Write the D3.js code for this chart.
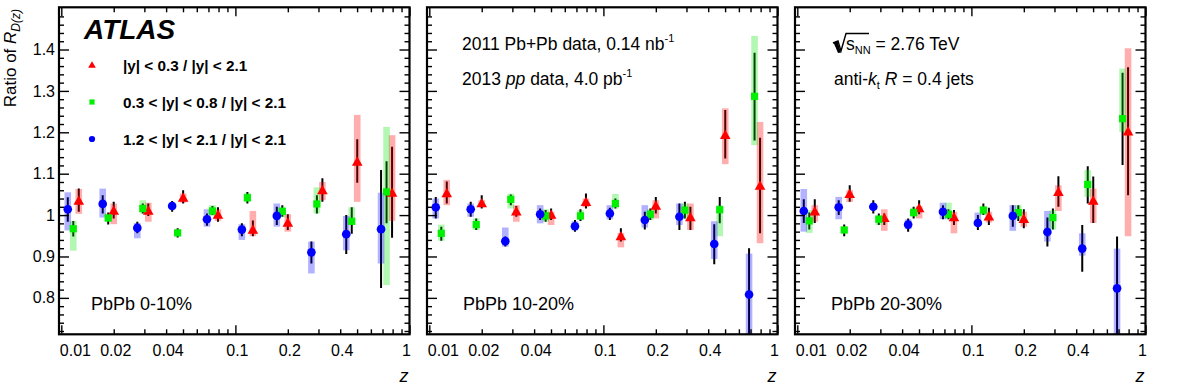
<!DOCTYPE html>
<html>
<head>
<meta charset="utf-8">
<script src="https://d3js.org/d3.v7.min.js"></script>
<style>
  body { margin: 0; background: #fff; }
  svg { display: block; font-family: "Liberation Sans", Arial, Helvetica, sans-serif; }
</style>
</head>
<body>
<div id="chart"></div>
<script>
// z bin centres (log bins, 5 per decade)
var zBins = [0.0126, 0.02, 0.0316, 0.0501, 0.0794, 0.126, 0.2, 0.316, 0.501, 0.794];

var seriesLabels = ["|y| < 0.3 / |y| < 2.1", "0.3 < |y| < 0.8 / |y| < 2.1", "1.2 < |y| < 2.1 / |y| < 2.1"];
var panelLabels = ["PbPb 0-10%", "PbPb 10-20%", "PbPb 20-30%"];
var yTickValues = [0.8, 0.9, 1, 1.1, 1.2, 1.3, 1.4];
var xLabelValues = [0.01, 0.02, 0.04, 0.1, 0.2, 0.4, 1];

// each row: [value, stat low, stat high, syst low, syst high]
var red010 = [
  [1.034, 1.008, 1.064, 1.003, 1.063], [1.010, 0.992, 1.032, 0.978, 1.028],
  [1.010, 0.998, 1.028, 0.984, 1.030], [1.041, 1.028, 1.060, 1.030, 1.052],
  [1.000, 0.984, 1.019, 0.986, 1.014], [0.964, 0.949, 0.987, 0.949, 1.010],
  [0.981, 0.964, 1.002, 0.960, 1.002], [1.059, 1.032, 1.089, 1.036, 1.080],
  [1.128, 1.078, 1.183, 1.032, 1.242], [1.053, 0.945, 1.165, 0.986, 1.193]];
var green010 = [
  [0.967, 0.948, 0.986, 0.914, 0.986], [0.993, 0.977, 1.006, 0.984, 1.004],
  [1.016, 1.004, 1.028, 1.004, 1.036], [0.957, 0.946, 0.968, 0.950, 0.965],
  [1.010, 1.000, 1.022, 0.998, 1.024], [1.042, 1.028, 1.056, 1.031, 1.054],
  [1.009, 0.996, 1.024, 0.995, 1.020], [1.027, 1.004, 1.048, 1.004, 1.067],
  [0.985, 0.955, 1.019, 0.976, 1.019], [1.056, 0.980, 1.130, 0.831, 1.213]];
var blue010 = [
  [1.014, 0.984, 1.043, 0.963, 1.055], [1.027, 1.004, 1.048, 0.994, 1.064],
  [0.969, 0.956, 0.984, 0.944, 0.981], [1.022, 1.008, 1.034, 1.014, 1.030],
  [0.990, 0.974, 1.004, 0.972, 1.014], [0.965, 0.949, 0.980, 0.940, 0.978],
  [0.998, 0.976, 1.020, 0.972, 1.028], [0.910, 0.883, 0.936, 0.859, 0.936],
  [0.954, 0.906, 1.000, 0.915, 0.998], [0.966, 0.824, 1.109, 0.883, 1.054]];

var red1020 = [
  [1.052, 1.028, 1.081, 1.024, 1.085], [1.028, 1.016, 1.048, 1.019, 1.036],
  [1.008, 0.996, 1.022, 0.984, 1.024], [1.000, 0.988, 1.016, 0.976, 1.008],
  [1.031, 1.016, 1.052, 1.019, 1.040], [0.948, 0.936, 0.968, 0.922, 0.957],
  [1.022, 1.004, 1.044, 0.992, 1.036], [0.994, 0.964, 1.020, 0.964, 1.028],
  [1.193, 1.137, 1.254, 1.123, 1.258], [1.070, 0.956, 1.187, 0.932, 1.225]];
var green1020 = [
  [0.956, 0.938, 0.972, 0.938, 0.977], [0.977, 0.964, 0.992, 0.964, 0.992],
  [1.038, 1.024, 1.050, 1.016, 1.052], [0.998, 0.984, 1.012, 0.984, 1.014],
  [0.998, 0.986, 1.014, 0.988, 1.012], [1.028, 1.016, 1.040, 1.016, 1.051],
  [1.002, 0.988, 1.016, 0.988, 1.014], [1.012, 0.992, 1.032, 0.992, 1.028],
  [1.013, 0.980, 1.044, 0.949, 1.024], [1.287, 1.180, 1.392, 1.169, 1.433]];
var blue1020 = [
  [1.019, 0.992, 1.044, 0.992, 1.040], [1.014, 0.996, 1.032, 0.996, 1.028],
  [0.937, 0.924, 0.948, 0.924, 0.970], [1.002, 0.988, 1.016, 0.980, 1.024],
  [0.973, 0.960, 0.988, 0.963, 0.985], [1.004, 0.988, 1.018, 0.990, 1.024],
  [0.988, 0.965, 1.008, 0.970, 1.024], [0.996, 0.964, 1.028, 0.976, 1.028],
  [0.930, 0.881, 0.978, 0.894, 0.985], [0.808, 0.650, 0.920, 0.650, 0.907]];

var red2030 = [
  [1.008, 0.981, 1.038, 0.984, 1.024], [1.050, 1.032, 1.072, 1.032, 1.060],
  [0.992, 0.976, 1.004, 0.962, 1.014], [1.016, 1.002, 1.036, 0.992, 1.022],
  [0.994, 0.976, 1.012, 0.956, 1.008], [0.996, 0.976, 1.018, 0.982, 1.008],
  [0.990, 0.968, 1.014, 0.972, 1.008], [1.055, 1.020, 1.094, 1.010, 1.072],
  [1.034, 0.981, 1.093, 0.981, 1.064], [1.201, 1.048, 1.357, 0.949, 1.403]];
var green2030 = [
  [0.986, 0.965, 1.006, 0.957, 1.012], [0.964, 0.949, 0.977, 0.956, 0.972],
  [0.990, 0.976, 1.004, 0.976, 1.000], [1.006, 0.992, 1.020, 0.996, 1.018],
  [1.002, 0.990, 1.014, 0.990, 1.030], [1.012, 1.000, 1.028, 1.000, 1.022],
  [1.006, 0.986, 1.024, 0.990, 1.024], [0.994, 0.965, 1.016, 0.965, 1.012],
  [1.074, 1.028, 1.118, 1.044, 1.109], [1.233, 1.121, 1.344, 1.201, 1.354]];
var blue2030 = [
  [1.010, 0.981, 1.038, 0.960, 1.063], [1.019, 1.000, 1.036, 0.990, 1.044],
  [1.020, 1.004, 1.036, 1.012, 1.028], [0.977, 0.960, 0.992, 0.966, 0.990],
  [1.008, 0.990, 1.024, 0.990, 1.030], [0.981, 0.964, 1.000, 0.974, 1.006],
  [0.998, 0.972, 1.024, 0.962, 1.024], [0.959, 0.924, 0.994, 0.936, 1.010],
  [0.919, 0.863, 0.976, 0.902, 0.956], [0.823, 0.650, 0.948, 0.650, 0.919]];

var panels = [
  {label: panelLabels[0], series: [red010, green010, blue010]},
  {label: panelLabels[1], series: [red1020, green1020, blue1020]},
  {label: panelLabels[2], series: [red2030, green2030, blue2030]}
];

// styling per series: red triangles, green squares, blue circles
var styles = [
  {color: "#ff0000", box: "rgba(255,0,0,0.32)", shape: "tri", dx: 0},
  {color: "#00f000", box: "rgba(0,230,0,0.30)", shape: "sq", dx: -5.5},
  {color: "#0000ff", box: "rgba(0,0,255,0.30)", shape: "circ", dx: -11}
];

var width = 1182, height = 386;
var panelLeft = [59, 427, 795],
    pw = 350.5, panelTop = 7.3, ph = 327;

var svg = d3.select("#chart").append("svg")
    .attr("width", width)
    .attr("height", height);

var x = d3.scaleLog().domain([0.0097, 1]).range([0, pw]);
var y = d3.scaleLinear().domain([0.712, 1.502]).range([ph, 0]);

var minorY = d3.range(72, 151, 2).map(function(d) { return d / 100; })
    .filter(function(d) { return Math.abs(d * 10 - Math.round(d * 10)) > 1e-6; });
var majorX = [0.01, 0.1, 1];
var minorX = [];
[0.01, 0.1].forEach(function(dec) {
    for (var k = 2; k <= 9; k++) minorX.push(dec * k);
});

function drawMarker(g, shape, cx, cy, color, s) {
    if (shape === "circ") {
        g.append("circle").attr("cx", cx).attr("cy", cy).attr("r", s * 0.6).attr("fill", color);
    } else if (shape === "sq") {
        g.append("rect").attr("x", cx - s / 2).attr("y", cy - s / 2)
            .attr("width", s).attr("height", s).attr("fill", color);
    } else {
        g.append("path")
            .attr("d", d3.symbol().type(d3.symbolTriangle).size(s * s * 0.95)())
            .attr("transform", "translate(" + cx + "," + (cy + 0.6) + ")")
            .attr("fill", color);
    }
}

panels.forEach(function(p, pi) {
    var g = svg.append("g").attr("transform", "translate(" + panelLeft[pi] + "," + panelTop + ")");

    g.append("clipPath").attr("id", "clip" + pi)
        .append("rect").attr("width", pw).attr("height", ph);

    var data = g.append("g").attr("clip-path", "url(#clip" + pi + ")");

    p.series.forEach(function(rows, si) {
        var st = styles[si];
        // stat bars first, translucent syst boxes over them, markers on top
        data.append("g").selectAll("line")
            .data(rows).enter().append("line")
            .attr("x1", function(d, i) { return x(zBins[i]) + st.dx; })
            .attr("x2", function(d, i) { return x(zBins[i]) + st.dx; })
            .attr("y1", function(d) { return y(d[1]); })
            .attr("y2", function(d) { return y(d[2]); })
            .attr("stroke", "#000")
            .attr("stroke-width", 2);
        data.append("g").selectAll("rect")
            .data(rows).enter().append("rect")
            .attr("x", function(d, i) { return x(zBins[i]) + st.dx - 3.3; })
            .attr("width", 6.6)
            .attr("y", function(d) { return y(d[4]); })
            .attr("height", function(d) { return y(d[3]) - y(d[4]); })
            .attr("fill", st.box);
    });
    p.series.forEach(function(rows, si) {
        var st = styles[si];
        var mg = data.append("g");
        rows.forEach(function(d, i) {
            drawMarker(mg, st.shape, x(zBins[i]) + st.dx, y(d[0]), st.color, 7.2);
        });
    });

    // axes, ticks pointing inwards on all four sides
    var axes = g.append("g").attr("class", "axes");
    axes.append("g").call(d3.axisLeft(y).tickValues(yTickValues).tickSize(-10).tickFormat(""));
    axes.append("g").call(d3.axisLeft(y).tickValues(minorY).tickSize(-5).tickFormat(""));
    axes.append("g").attr("transform", "translate(" + pw + ",0)")
        .call(d3.axisRight(y).tickValues(yTickValues).tickSize(-10).tickFormat(""));
    axes.append("g").attr("transform", "translate(" + pw + ",0)")
        .call(d3.axisRight(y).tickValues(minorY).tickSize(-5).tickFormat(""));
    axes.append("g").attr("transform", "translate(0," + ph + ")")
        .call(d3.axisBottom(x).tickValues(majorX).tickSize(-9).tickFormat(""));
    axes.append("g").attr("transform", "translate(0," + ph + ")")
        .call(d3.axisBottom(x).tickValues(minorX).tickSize(-5).tickFormat(""));
    axes.append("g")
        .call(d3.axisTop(x).tickValues(majorX).tickSize(-9).tickFormat(""));
    axes.append("g")
        .call(d3.axisTop(x).tickValues(minorX).tickSize(-5).tickFormat(""));
    axes.selectAll(".domain").remove();
    axes.selectAll(".tick line").attr("stroke", "#000").attr("stroke-width", 1.4);

    // x tick labels
    var xl = g.append("g").attr("transform", "translate(0," + ph + ")")
        .call(d3.axisBottom(x).tickValues(xLabelValues).tickSize(0).tickPadding(10)
            .tickFormat(function(d) { return String(d); }));
    xl.select(".domain").remove();
    xl.selectAll("text")
        .attr("font-size", 16)
        .attr("font-family", "Liberation Sans, Arial, sans-serif")
        .attr("fill", "#000")
        .attr("text-anchor", function(d) { return d === 0.01 ? "start" : (d === 1 ? "end" : "middle"); })
        .attr("dx", function(d) { return d === 0.01 ? -2 : (d === 1 ? 1 : 1.5); });

    if (pi === 0) {
        var yl = g.append("g")
            .call(d3.axisLeft(y).tickValues(yTickValues).tickSize(0).tickPadding(4)
                .tickFormat(function(d) { return d === 1 ? "1" : d3.format(".1f")(d); }));
        yl.select(".domain").remove();
        yl.selectAll("text")
            .attr("font-size", 16)
            .attr("font-family", "Liberation Sans, Arial, sans-serif")
            .attr("fill", "#000");
    }

    // frame
    g.append("rect").attr("width", pw).attr("height", ph)
        .attr("fill", "none").attr("stroke", "#000").attr("stroke-width", 2.2);

    // centrality label
    g.append("text").attr("x", pi === 0 ? 32 : 36).attr("y", 303)
        .attr("font-size", 18).text(p.label);

    // x axis title
    g.append("text").attr("x", pw - 1).attr("y", 375)
        .attr("text-anchor", "end").attr("font-size", 18)
        .attr("font-style", "italic").text("z");
});

// y axis title
var yt = svg.append("text")
    .attr("transform", "translate(16,9) rotate(-90)")
    .attr("text-anchor", "end")
    .attr("font-size", 17);
yt.append("tspan").text("Ratio of ");
yt.append("tspan").attr("font-style", "italic").text("R");
yt.append("tspan").attr("font-style", "italic").attr("font-size", 12).attr("dy", 4).text("D(z)");

// ATLAS label + legend in first panel
svg.append("text").attr("x", 84).attr("y", 39)
    .attr("font-size", 28).attr("font-weight", "bold").attr("font-style", "italic")
    .text("ATLAS");

var legendY = [65, 102, 139];
seriesLabels.forEach(function(lab, i) {
    var lg = svg.append("g");
    drawMarker(lg, styles[i].shape, 92, legendY[i], styles[i].color, 5.2);
    lg.append("text").attr("x", 123).attr("y", legendY[i] + 5.5)
        .attr("font-size", 15.3).attr("font-weight", "bold").text(lab);
});

// panel 2 annotations
var t1 = svg.append("text").attr("x", 462).attr("y", 49.5).attr("font-size", 17.5);
t1.append("tspan").text("2011 Pb+Pb data, 0.14 nb");
t1.append("tspan").attr("font-size", 11).attr("dy", -8).text("-1");
var t2 = svg.append("text").attr("x", 462).attr("y", 84.5).attr("font-size", 17.5);
t2.append("tspan").text("2013 ");
t2.append("tspan").attr("font-style", "italic").text("pp");
t2.append("tspan").text(" data, 4.0 pb");
t2.append("tspan").attr("font-size", 11).attr("dy", -8).text("-1");

// panel 3 annotations
svg.append("path")
    .attr("d", "M833,43 L838,41 L841,51 L846,33.5 L869,33.5")
    .attr("fill", "none").attr("stroke", "#000").attr("stroke-width", 1.4);
svg.append("path")
    .attr("d", "M833.5,42.5 L837.5,41 L841,52.5 L838,53 Z")
    .attr("fill", "#000");
var t3 = svg.append("text").attr("x", 846).attr("y", 49.5).attr("font-size", 17.5);
t3.append("tspan").text("s");
t3.append("tspan").attr("font-size", 11).attr("dy", 4).text("NN");
t3.append("tspan").attr("dy", -4).text(" = 2.76 TeV");
var t4 = svg.append("text").attr("x", 834).attr("y", 84.5).attr("font-size", 17.5);
t4.append("tspan").text("anti-");
t4.append("tspan").attr("font-style", "italic").text("k");
t4.append("tspan").attr("font-size", 11).attr("dy", 4).text("t");
t4.append("tspan").attr("dy", -4).text(" ");
t4.append("tspan").attr("font-style", "italic").text("R");
t4.append("tspan").text(" = 0.4 jets");
</script>
</body>
</html>
